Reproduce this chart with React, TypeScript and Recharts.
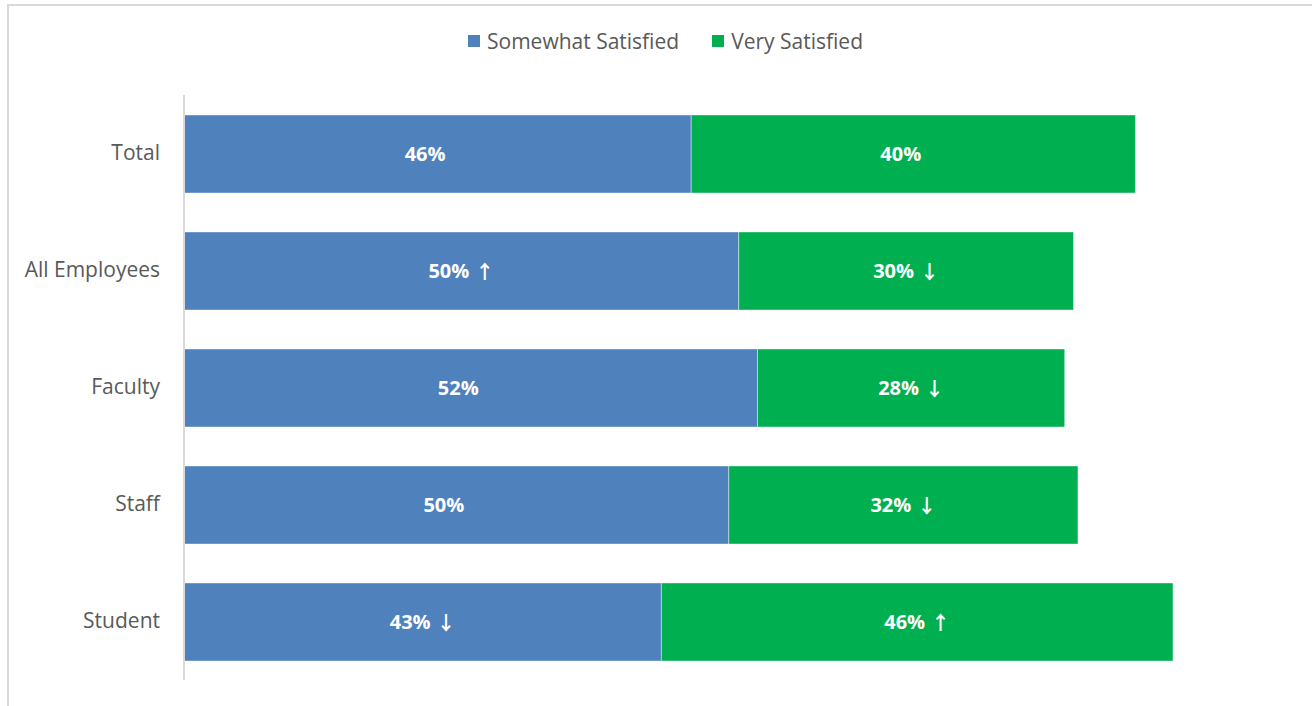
import React from "react";
import { BarChart, Bar, XAxis, YAxis, LabelList } from "recharts";

const categories = ["Total", "All Employees", "Faculty", "Staff", "Student"];
const somewhatValues = [0.459, 0.502, 0.519, 0.493, 0.432];
const veryValues = [0.402, 0.303, 0.278, 0.316, 0.463];
const somewhatLabels = ["46%", "50%", "52%", "50%", "43%"];
const somewhatArrows = ["", "↑", "", "", "↓"];
const veryLabels = ["40%", "30%", "28%", "32%", "46%"];
const veryArrows = ["", "↓", "↓", "↓", "↑"];
const seriesNames = ["Somewhat Satisfied", "Very Satisfied"];
const seriesColors = ["#4F81BD", "#00B050"];

const data = categories.map((c, i) => ({
  category: c,
  somewhat: somewhatValues[i],
  very: veryValues[i],
  somewhatLabel: somewhatLabels[i] + "|" + somewhatArrows[i],
  veryLabel: veryLabels[i] + "|" + veryArrows[i],
}));

const FONT = "'Open Sans', sans-serif";

const renderLabel = (props: any) => {
  const { x, y, width, height, value } = props;
  const [txt, arrow] = String(value).split("|");
  const cx = Number(x) + Number(width) / 2;
  const cy = Number(y) + Number(height) / 2;
  return (
    <text
      x={cx}
      y={cy - 1}
      textAnchor="middle"
      dominantBaseline="central"
      fill="#ffffff"
      fontSize={20}
      fontWeight="bold"
      fontFamily={FONT}
    >
      <tspan>{txt}</tspan>
      <tspan dx={6} fontFamily="'Noto Sans CJK SC', sans-serif" fontWeight="bold" fontSize={19} fillOpacity={arrow ? 1 : 0}>
        {arrow || "↑"}
      </tspan>
    </text>
  );
};

export default function App() {
  return (
    <div style={{ position: "absolute", left: 0, top: 0, width: 1312, height: 706, overflow: "hidden", background: "#fff" }}>
      <div
        style={{
          position: "absolute",
          left: 7,
          top: 4,
          width: 1320,
          height: 720,
          border: "2px solid #d9d9d9",
          boxSizing: "border-box",
        }}
      />
      <div
        style={{
          position: "absolute",
          top: 27,
          left: 468,
          display: "flex",
          fontFamily: FONT,
          fontSize: 21,
          color: "#595959",
          gap: 33,
          whiteSpace: "nowrap",
        }}
      >
        {seriesNames.map((n, i) => (
          <div key={n} style={{ display: "flex", alignItems: "center" }}>
            <span style={{ display: "inline-block", width: 12, height: 12, background: seriesColors[i], marginRight: 7 }} />
            <span>{n}</span>
          </div>
        ))}
      </div>
      <div style={{ position: "absolute", left: 0, top: 0 }}>
        <BarChart
          width={1312}
          height={706}
          data={data}
          layout="vertical"
          margin={{ top: 95, right: 23, bottom: 26, left: 8 }}
          barSize={78}
        >
          <XAxis type="number" domain={[0, 1]} hide />
          <YAxis
            type="category"
            dataKey="category"
            width={176}
            axisLine={{ stroke: "#d9d9d9", strokeWidth: 2 }}
            tickLine={false}
            tickMargin={18}
            tick={{ fill: "#595959", fontSize: 21, fontFamily: FONT, dy: -1 }}
          />
          <Bar dataKey="somewhat" stackId="a" fill={seriesColors[0]} stroke="#ffffff" strokeOpacity={0.4} strokeWidth={1} isAnimationActive={false}>
            <LabelList dataKey="somewhatLabel" content={renderLabel} />
          </Bar>
          <Bar dataKey="very" stackId="a" fill={seriesColors[1]} stroke="#ffffff" strokeOpacity={0.4} strokeWidth={1} isAnimationActive={false}>
            <LabelList dataKey="veryLabel" content={renderLabel} />
          </Bar>
        </BarChart>
      </div>
    </div>
  );
}
